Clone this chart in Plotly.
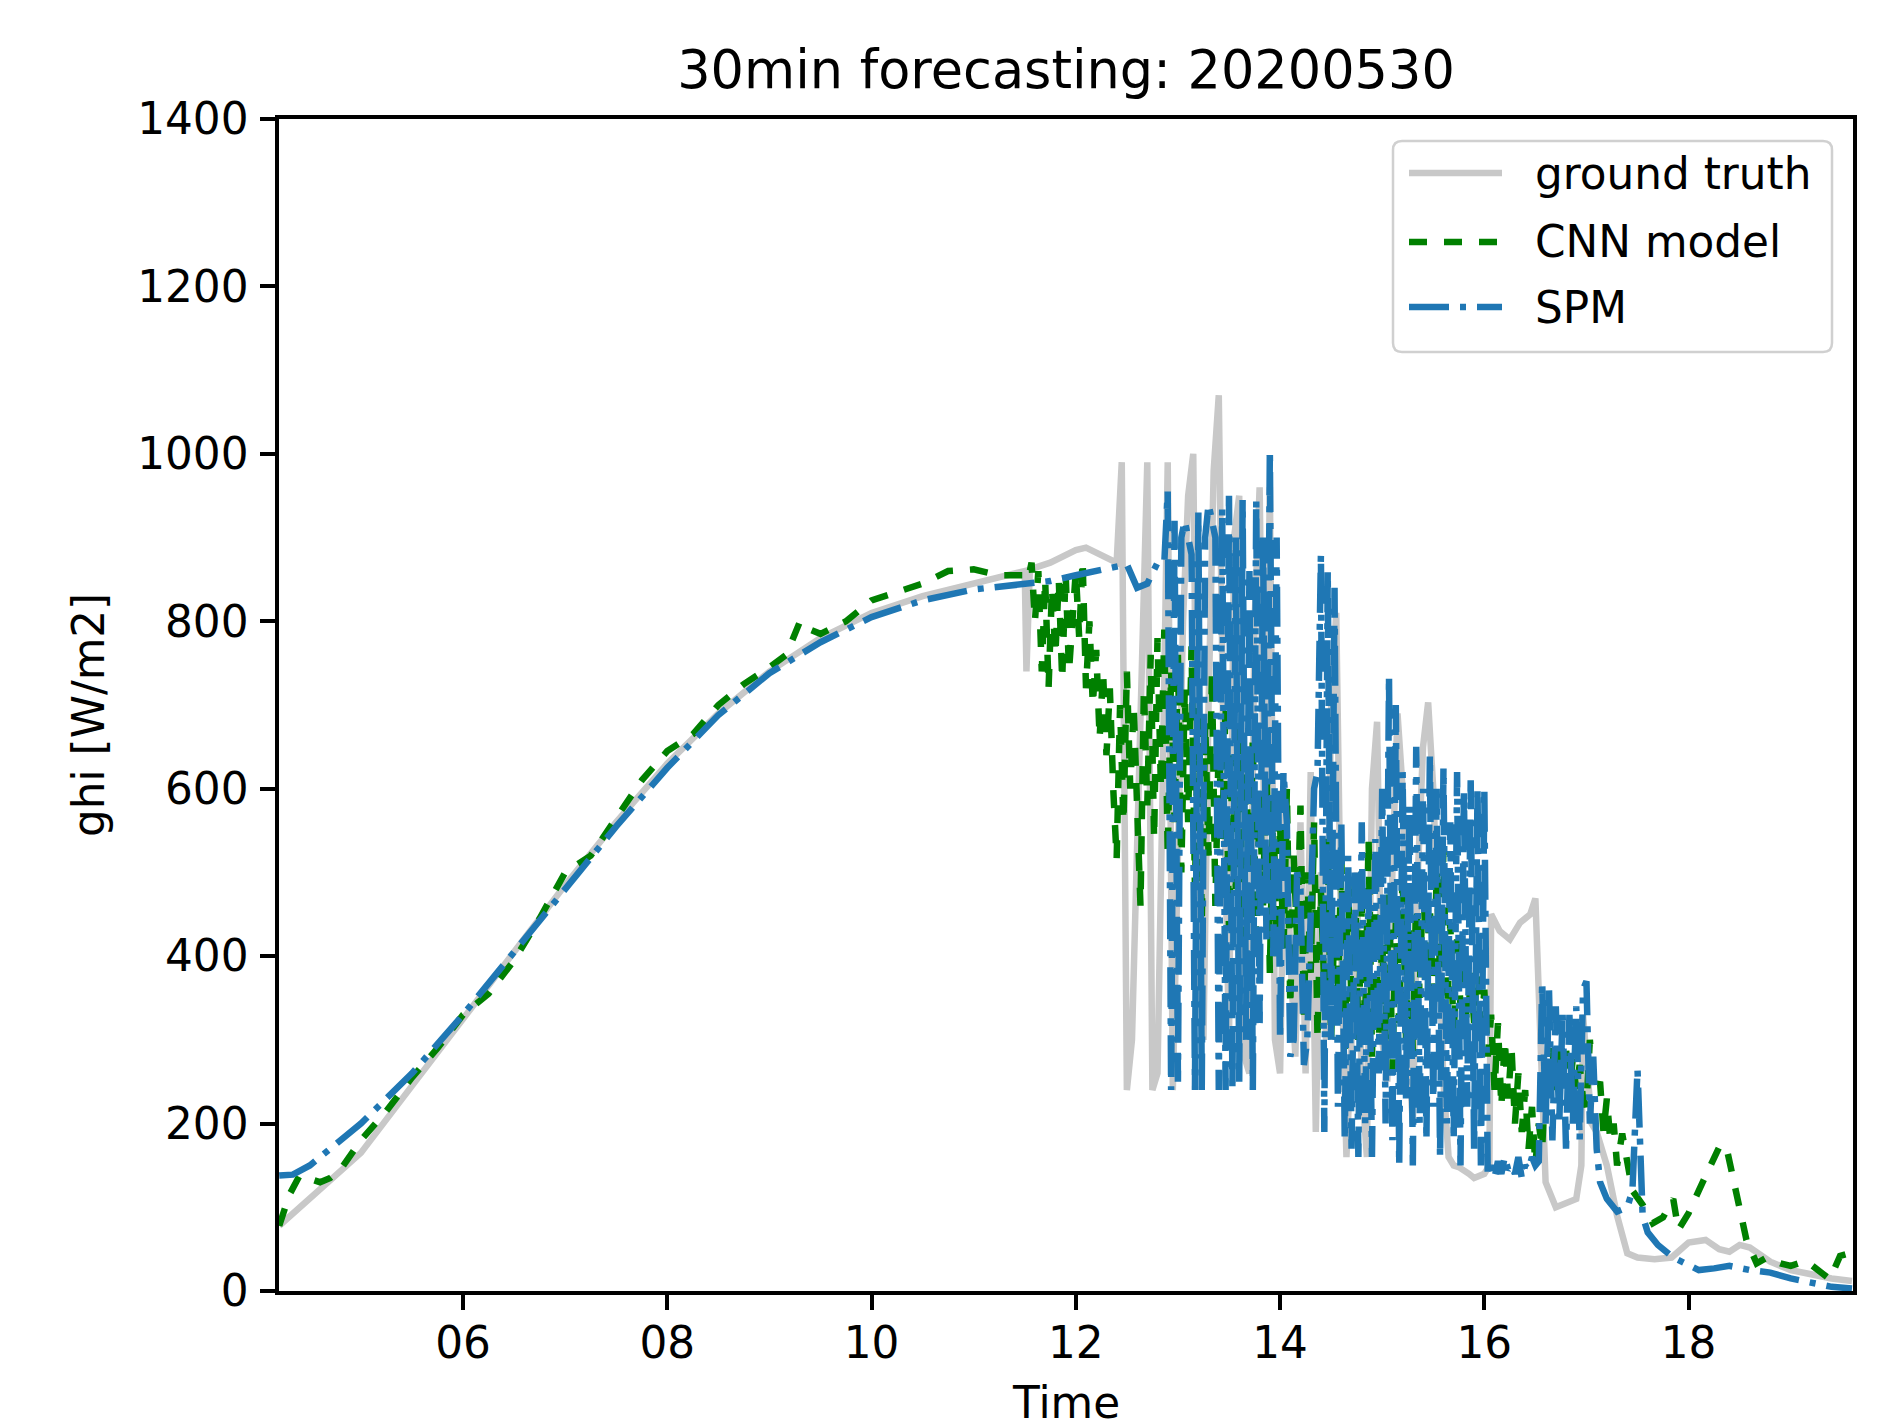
import pandas as pd
import plotly.graph_objects as go

DAY = "2020-05-30"

# ---- ground truth ghi [W/m2] ----
gt_head_time = ["04:12", "04:30", "05:00", "05:30", "06:00", "06:30", "07:00", "07:30", "08:00",
                "08:30", "09:00", "09:30", "10:00", "10:30", "11:00", "11:25", "11:30", "11:31",
                "11:33", "11:45", "12:00", "12:06", "12:12", "12:18"]
gt_head = [78, 110, 165, 245, 325, 405, 485, 560, 630, 690, 740, 780, 810, 830, 845, 858, 860, 740,
           862, 870, 885, 888, 882, 876]
# every 3 min from 12:21
gt_mid_start = "12:21"
gt_mid = [872, 870, 990, 240, 300, 550, 800, 990, 240, 260, 600, 990, 240,
          500, 800, 950, 1000, 400, 300, 700, 980, 1070, 600, 300, 900, 950, 280, 260, 800, 960, 500, 960, 300,
          260, 600, 400, 280, 560, 260, 620, 190, 500, 300, 700, 810, 400, 160, 300, 500, 250, 160, 600, 680,
          300, 250, 500, 690, 600, 300, 200, 500, 650, 703, 600, 400, 250, 160, 150, 148, 145, 140, 135, 138,
          140, 150]
gt_tail_time = ["16:04", "16:09", "16:15", "16:21", "16:27", "16:30", "16:33", "16:36", "16:42", "16:48",
                "16:54", "16:57", "16:58", "17:03", "17:06", "17:12", "17:18", "17:24", "17:30", "17:40",
                "17:50", "18:00", "18:10", "18:18", "18:24", "18:30", "18:36", "18:48", "19:00", "19:12",
                "19:24", "19:36"]
gt_tail = [450, 430, 420, 440, 450, 469, 300, 130, 100, 105, 110, 150, 330, 200, 190, 150, 90, 45, 40, 38,
           40, 58, 61, 50, 47, 55, 52, 35, 25, 20, 15, 12]

# ---- CNN model ----
cnn_head_time = ["04:12", "04:18", "04:24", "04:30", "04:36", "04:42", "04:48", "05:00", "05:15", "05:30",
                 "05:45", "06:00", "06:15", "06:30", "06:45", "07:00", "07:15", "07:30", "07:45", "08:00",
                 "08:15", "08:30", "08:45", "09:00", "09:10", "09:18", "09:24", "09:30", "09:45", "10:00",
                 "10:15", "10:30", "10:45", "11:00", "11:15", "11:30"]
cnn_head = [78, 115, 138, 135, 130, 135, 145, 180, 215, 255, 290, 330, 355, 395, 445, 500, 520, 565, 610,
            645, 665, 700, 725, 745, 760, 800, 790, 785, 800, 825, 835, 845, 860, 862, 855, 855]
# every 2 min from 11:32
cnn_mid_start = "11:32"
cnn_mid = [850, 870, 800, 860, 740, 850, 720, 840, 760, 850, 730, 860, 740, 800,
           860, 780, 873, 720, 800, 700, 766, 660, 740, 640, 720, 600, 516, 700, 560,
           740, 600, 700, 550, 460, 720, 580, 760, 540, 780, 600, 790, 520, 740, 560,
           760, 500, 720, 560, 770, 480, 700, 440, 680, 520, 740, 460, 660, 540, 700,
           430, 640, 480, 680, 420, 620, 500, 660, 400, 600, 460, 640, 380, 590, 400,
           560, 400, 600, 340, 520, 420, 580, 330, 500, 380, 560, 300, 480, 360, 540,
           300, 450, 350, 520, 280, 480, 340, 500, 300, 460, 320, 540, 280, 450, 300,
           420, 300, 480, 260, 440, 320, 500, 300, 460, 280, 480, 350, 500, 380, 460,
           330, 500, 380, 527, 320, 440, 300, 420, 340, 400, 300, 380, 320, 400, 300,
           360, 280, 330, 240, 320, 220, 300, 230, 290, 200, 260, 190, 240, 170, 220,
           150, 200, 170, 260, 230, 290, 240, 300, 250, 290, 230, 280, 240, 270, 230,
           220, 300, 250, 240, 250, 190, 230, 180, 200, 150]
cnn_tail_time = ["17:21", "17:27", "17:33", "17:39", "17:45", "17:51", "17:54", "18:00", "18:06", "18:12",
                 "18:18", "18:22", "18:26", "18:30", "18:34", "18:40", "18:46", "18:54", "19:00", "19:09",
                 "19:17", "19:23", "19:29", "19:36"]
cnn_tail = [188, 120, 103, 81, 88, 110, 73, 93, 120, 147, 172, 174, 136, 100, 61, 33, 40, 33, 30, 36,
            22, 14, 42, 46]

# ---- SPM ----
spm_head_time = ["04:12", "04:20", "04:30", "04:45", "05:00", "05:30", "06:00", "06:30", "07:00", "07:30",
                 "08:00", "08:30", "09:00", "09:30", "10:00", "10:30", "11:00", "11:30", "11:45", "12:00",
                 "12:15", "12:30", "12:36", "12:42", "12:48"]
spm_head = [138, 139, 150, 175, 200, 260, 330, 405, 480, 555, 625, 688, 738, 775, 805, 825, 838, 845, 848,
            855, 862, 868, 840, 845, 870]
# every 2 min from 12:52
spm_mid_start = "12:52"
spm_mid = [870, 955, 240, 920,
           250, 900, 920, 900, 880, 240, 930, 240, 900, 940, 920, 900, 240, 935, 240,
           950, 240, 900, 250, 945, 300, 860, 240, 945, 320, 900, 420, 1005, 400, 900,
           300, 620, 560, 280, 300, 500, 480, 270, 300, 480, 600, 620, 880, 190, 860,
           300, 840, 220, 560, 180, 520, 170, 500, 160, 560, 200, 480, 160, 540, 260,
           600, 200, 735, 180, 700, 150, 620, 230, 580, 150, 650, 200, 600, 180, 640,
           220, 600, 160, 625, 200, 560, 180, 620, 150, 600, 220, 610, 170, 600, 150,
           600, 140, 150, 135, 155, 140, 160, 145, 150, 140, 160, 135, 150, 145, 160,
           150, 155, 370, 200, 360, 180, 340, 200, 330, 170, 330, 200, 340, 180, 360,
           370, 200, 280, 170, 130]
spm_tail_time = ["17:12", "17:18", "17:24", "17:27", "17:30", "17:33", "17:36", "17:42", "17:51", "18:00",
                 "18:06", "18:15", "18:24", "18:36", "18:48", "19:00", "19:12", "19:24", "19:36"]
spm_tail = [110, 95, 100, 120, 265, 90, 70, 55, 40, 30, 25, 27, 30, 25, 22, 15, 10, 5, 3]


def build(head_time, head, mid_start, mid, step, tail_time, tail):
    t = [f"{DAY} {h}" for h in head_time]
    t += [str(x) for x in pd.date_range(f"{DAY} {mid_start}", periods=len(mid), freq=step)]
    t += [f"{DAY} {h}" for h in tail_time]
    return t, head + mid + tail


gt_x, gt_y = build(gt_head_time, gt_head, gt_mid_start, gt_mid, "3min", gt_tail_time, gt_tail)
cnn_x, cnn_y = build(cnn_head_time, cnn_head, cnn_mid_start, cnn_mid, "2min", cnn_tail_time, cnn_tail)
spm_x, spm_y = build(spm_head_time, spm_head, spm_mid_start, spm_mid, "2min", spm_tail_time, spm_tail)

GRAY = "#c8c8c8"
GREEN = "#008000"
BLUE = "#1f77b4"
CNN_DASH = "18px,17px"
SPM_DASH = "40px,11px,6px,11px"
LW = 6.5
FONT = "DejaVu Sans"
FS = 43.75

fig = go.Figure()
fig.add_trace(go.Scatter(x=gt_x, y=gt_y, mode="lines", name="ground truth",
                         line=dict(color=GRAY, width=LW)))
fig.add_trace(go.Scatter(x=cnn_x, y=cnn_y, mode="lines", name="CNN model",
                         line=dict(color=GREEN, width=LW, dash=CNN_DASH)))
fig.add_trace(go.Scatter(x=spm_x, y=spm_y, mode="lines", name="SPM",
                         line=dict(color=BLUE, width=LW, dash=SPM_DASH)))

# the page body adds 8 px around the figure; positions below are page pixels
OFF = 8
W, H = 1902 - 2 * OFF, 1422 - OFF
L, R, T, B = 279 - OFF, 1853 - OFF, 119 - OFF, 1291 - OFF


def px(x):
    return (x - OFF - L) / (R - L)


def py(y):
    return (B - (y - OFF)) / (B - T)


# legend box (matplotlib style, drawn by hand)
x0, x1, y0, y1 = px(1393), px(1832), py(352), py(141)
rx, ry = 9 / (R - L), 9 / (B - T)
box = (f"M {x0 + rx},{y1} L {x1 - rx},{y1} Q {x1},{y1} {x1},{y1 - ry} L {x1},{y0 + ry} "
       f"Q {x1},{y0} {x1 - rx},{y0} L {x0 + rx},{y0} Q {x0},{y0} {x0},{y0 + ry} "
       f"L {x0},{y1 - ry} Q {x0},{y1} {x0 + rx},{y1} Z")
shapes = [dict(type="path", xref="paper", yref="paper", path=box,
               line=dict(color="#d0d0d0", width=2.5), fillcolor="rgba(255,255,255,0.8)")]
annotations = []
legend_rows = [("ground truth", GRAY, "solid", 173), ("CNN model", GREEN, CNN_DASH, 242),
               ("SPM", BLUE, SPM_DASH, 307)]
for label, color, dash, yy in legend_rows:
    shapes.append(dict(type="line", xref="paper", yref="paper", x0=px(1409), x1=px(1502),
                       y0=py(yy), y1=py(yy), line=dict(color=color, width=LW, dash=dash)))
    annotations.append(dict(xref="paper", yref="paper", x=px(1533), y=py(yy), xanchor="left",
                            yanchor="middle", showarrow=False, text=label,
                            font=dict(family=FONT, size=FS, color="black")))

# axis titles
annotations.append(dict(xref="paper", yref="paper", x=0.5, y=py(1402), xanchor="center",
                        yanchor="middle", showarrow=False, text="Time",
                        font=dict(family=FONT, size=FS, color="black")))
annotations.append(dict(xref="paper", yref="paper", x=px(88), y=py(715), xanchor="center",
                        yanchor="middle", showarrow=False, text="ghi [W/m2]", textangle=-90,
                        font=dict(family=FONT, size=FS, color="black")))

fig.update_layout(
    width=W, height=H,
    margin=dict(l=L, r=W - R, t=T, b=H - B, autoexpand=False),
    paper_bgcolor="white", plot_bgcolor="white",
    showlegend=False,
    font=dict(family=FONT, size=FS, color="black"),
    title=dict(text="30min forecasting: 20200530", x=0.5, xref="paper", xanchor="center",
               y=1 - (70 - OFF) / H, yanchor="middle", font=dict(family=FONT, size=52.5, color="black")),
    shapes=shapes,
    annotations=annotations,
)
fig.update_xaxes(
    type="date", range=[f"{DAY} 04:11:53", f"{DAY} 19:36:36"], automargin=False,
    tick0=f"{DAY} 00:00", dtick=2 * 3600 * 1000, tickformat="%H",
    showgrid=False, zeroline=False, showline=True, mirror=True, linecolor="black", linewidth=3.5,
    ticks="outside", ticklen=15, tickwidth=3.5, tickcolor="black", ticklabelstandoff=-4,
    tickfont=dict(family=FONT, size=FS, color="black"),
)
fig.update_yaxes(
    range=[0, 1400], tick0=0, dtick=200, automargin=False,
    showgrid=False, zeroline=False, showline=True, mirror=True, linecolor="black", linewidth=3.5,
    ticks="outside", ticklen=15, tickwidth=3.5, tickcolor="black", ticklabelstandoff=3,
    tickfont=dict(family=FONT, size=FS, color="black"),
)

fig.write_html("out.html")
